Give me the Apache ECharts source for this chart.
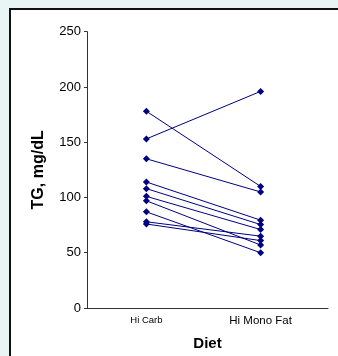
<!DOCTYPE html>
<html>
<head>
<meta charset="utf-8">
<script src="https://cdn.jsdelivr.net/npm/echarts@6/dist/echarts.min.js"></script>
<style>
html,body{margin:0;padding:0;background:#e9f4f5;}
#chart{width:338px;height:356px;}
</style>
</head>
<body>
<div id="chart"></div>
<script>
var categories = ['Hi Carb', 'Hi Mono Fat'];
var hiCarb    = [178, 153, 135, 114, 108, 101, 97, 87, 78, 76];
var hiMonoFat = [110, 196, 105, 79.5, 75.5, 71, 57, 50, 65, 61];
var yTicks = [0, 50, 100, 150, 200, 250];

var series = hiCarb.map(function (v, i) {
  return {
    type: 'line',
    data: [[0, v], [1, hiMonoFat[i]]],
    symbol: 'diamond',
    symbolSize: 7,
    lineStyle: { color: '#000080', width: 1 },
    itemStyle: { color: '#000080' },
    silent: true,
    animation: false
  };
});

var chart = echarts.init(document.getElementById('chart'));
chart.setOption({
  backgroundColor: '#e9f4f5',
  animation: false,
  graphic: [{
    type: 'rect',
    shape: { x: 10, y: 9, width: 420, height: 420 },
    style: { fill: '#ffffff', stroke: '#111111', lineWidth: 2 },
    z: -10
  }],
  grid: { left: 87, top: 31.7, right: 10, bottom: 47.7 },
  xAxis: {
    type: 'value',
    min: -0.52,
    max: 1.59,
    name: 'Diet',
    nameLocation: 'middle',
    nameGap: 28,
    nameTextStyle: { fontFamily: 'Liberation Sans', fontWeight: 'bold', fontSize: 15, color: '#000' },
    axisLine: { show: true, onZero: false, lineStyle: { color: '#333', width: 1 } },
    axisTick: { show: false },
    splitLine: { show: false },
    axisLabel: {
      customValues: [0, 1],
      margin: 7,
      fontFamily: 'Liberation Sans',
      color: '#000',
      formatter: function (v) {
        return v === 0 ? '{s|' + categories[0] + '}' : '{m|' + categories[1] + '}';
      },
      rich: {
        s: { fontSize: 9.5, fontFamily: 'Liberation Sans', color: '#000' },
        m: { fontSize: 11.5, fontFamily: 'Liberation Sans', color: '#000' }
      }
    }
  },
  yAxis: {
    type: 'value',
    min: yTicks[0],
    max: yTicks[yTicks.length - 1],
    interval: 50,
    name: 'TG, mg/dL',
    nameLocation: 'middle',
    nameGap: 40,
    nameTextStyle: { fontFamily: 'Liberation Sans', fontWeight: 'bold', fontSize: 16, color: '#000' },
    axisLine: { show: true, onZero: false, lineStyle: { color: '#333', width: 1 } },
    axisTick: { show: true, length: 3, lineStyle: { color: '#333' } },
    splitLine: { show: false },
    axisLabel: { margin: 6, fontFamily: 'Liberation Sans', fontSize: 13, color: '#000' }
  },
  series: series
});
</script>
</body>
</html>
